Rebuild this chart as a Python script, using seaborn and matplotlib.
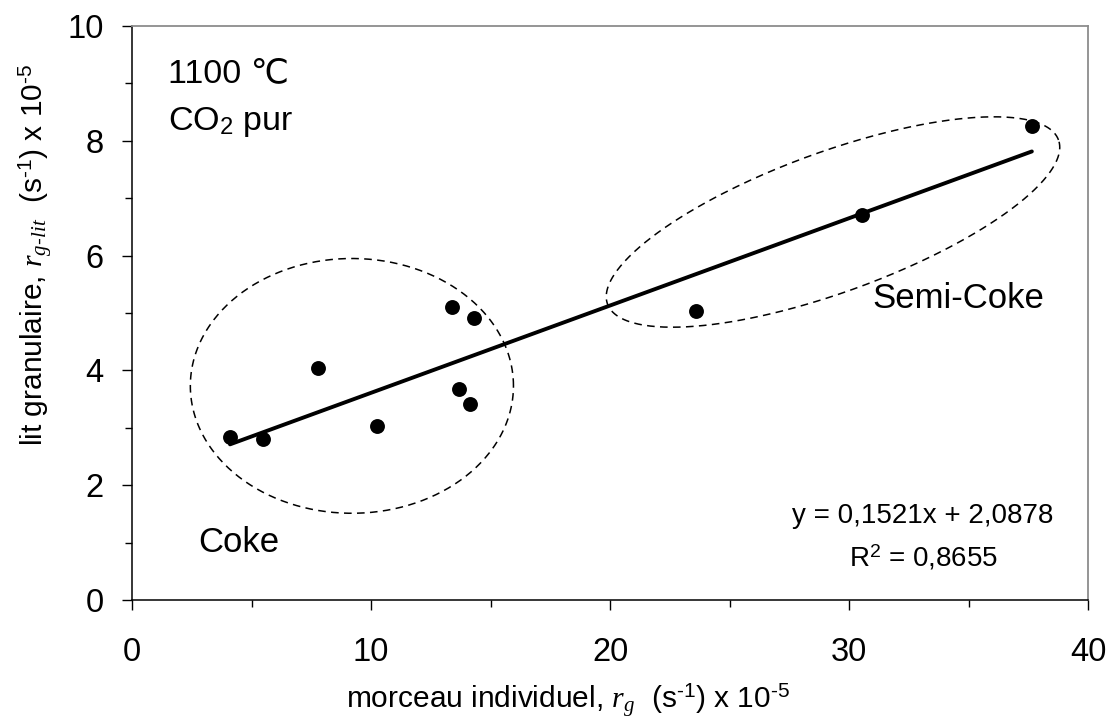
import numpy as np
import pandas as pd
import matplotlib
matplotlib.use("Agg")
import matplotlib.pyplot as plt
import seaborn as sns
from matplotlib.ticker import MultipleLocator

# Gasification rates (s^-1 x 10^-5): single lump vs. granular bed
rate_lump = [4.1, 5.5, 7.8, 10.25, 13.4, 13.7, 14.15, 14.3, 23.6, 30.55, 37.65]
rate_bed = [2.84, 2.81, 4.05, 3.03, 5.10, 3.68, 3.42, 4.91, 5.03, 6.71, 8.26]

# Linear trend as reported on the chart
slope = 0.1521
intercept = 2.0878
r_squared = 0.8655

x_ticks = [0, 10, 20, 30, 40]
y_ticks = [0, 2, 4, 6, 8, 10]

sns.set_theme(style="white")
plt.rcParams["font.family"] = ["Liberation Sans", "DejaVu Sans"]
plt.rcParams["mathtext.fontset"] = "custom"
plt.rcParams["mathtext.rm"] = "Liberation Sans"
plt.rcParams["mathtext.it"] = "Liberation Serif:italic"
plt.rcParams["mathtext.bf"] = "Liberation Sans:bold"
plt.rcParams["text.color"] = "black"
plt.rcParams["axes.labelcolor"] = "black"
plt.rcParams["xtick.color"] = "black"
plt.rcParams["ytick.color"] = "black"

fig = plt.figure(figsize=(11.15, 7.22), dpi=100)
fig.patch.set_facecolor("white")
ax = fig.add_axes([0.1184, 0.169, 0.8574, 0.795])
ax.set_facecolor("white")

df = pd.DataFrame({"lump": rate_lump, "bed": rate_bed})

# trend line over the data range
xs = np.array([df["lump"].min(), df["lump"].max()])
sns.lineplot(x=xs, y=slope * xs + intercept, ax=ax, color="black", lw=2.8, zorder=2)

sns.scatterplot(data=df, x="lump", y="bed", ax=ax, s=115, color="black",
                edgecolor="black", linewidth=0, zorder=3)

ax.set_xlim(0, 40)
ax.set_ylim(0, 10)

# aspect between one y unit and one x unit on screen
pos = ax.get_position()
px_x = pos.width * fig.get_figwidth() / 40.0
px_y = pos.height * fig.get_figheight() / 10.0
k = px_y / px_x


def group_outline(cx, cy, a, b, angle_deg):
    """Ellipse given in screen-proportional units (x-data units), returned in data coords."""
    t = np.linspace(0, 2 * np.pi, 400)
    th = np.deg2rad(angle_deg)
    u = a * np.cos(t)
    v = b * np.sin(t)
    ex = cx + u * np.cos(th) - v * np.sin(th)
    ey = cy + (u * np.sin(th) + v * np.cos(th)) / k
    return ex, ey


dash = (0, (5, 3.5))
ex, ey = group_outline(9.2, 3.73, 6.76, 5.33, 0)
ax.plot(ex, ey, color="black", lw=1.1, ls=dash, zorder=1)
ex, ey = group_outline(29.33, 6.585, 10.04, 2.93, 20)
ax.plot(ex, ey, color="black", lw=1.1, ls=dash, zorder=1)

# annotations
ax.text(1.5, 9.02, "1100 \u2103", fontsize=24.5, ha="left", va="baseline")
ax.text(1.5, 8.19, "CO$_\\mathrm{2}$ pur", fontsize=24.5, ha="left", va="baseline")
ax.text(2.76, 0.836, "Coke", fontsize=25, ha="left", va="baseline")
ax.text(30.96, 5.09, "Semi-Coke", fontsize=25, ha="left", va="baseline")

fmt = lambda v: f"{v:.4f}".replace(".", ",")
ax.text(33.1, 1.34, f"y = {fmt(slope)}x + {fmt(intercept)}", fontsize=20,
        ha="center", va="baseline")
ax.text(33.1, 0.575, f"R$^\\mathrm{{2}}$ = {fmt(r_squared)}", fontsize=20,
        ha="center", va="baseline")

# axes styling
ax.set_xticks(x_ticks)
ax.set_yticks(y_ticks)
ax.set_xticklabels([str(v) for v in x_ticks])
ax.set_yticklabels([str(v) for v in y_ticks])
ax.xaxis.set_minor_locator(MultipleLocator(5))
ax.yaxis.set_minor_locator(MultipleLocator(1))
ax.tick_params(axis="both", which="major", direction="out", length=7.5, width=1.0,
               color="black", labelsize=23.5, labelcolor="black")
ax.tick_params(axis="both", which="minor", direction="out", length=5, width=1.0,
               color="black")
ax.tick_params(axis="x", which="major", pad=19)
ax.tick_params(axis="y", which="major", pad=13)
ax.tick_params(bottom=True, left=True, which="both")

for side in ["left", "bottom"]:
    ax.spines[side].set_color("black")
    ax.spines[side].set_linewidth(1.1)
for side in ["top", "right"]:
    ax.spines[side].set_color("#8c8c8c")
    ax.spines[side].set_linewidth(1.3)

ax.set_xlabel("morceau individuel, $\\mathit{r}_{\\mathit{g}}$  (s$^{\\text{-1}}$) x 10$^{\\text{-5}}$",
              fontsize=21.5)
ax.set_ylabel("lit granulaire, $\\mathit{r}_{\\mathit{g}\\text{-}\\mathit{lit}}$  (s$^{\\text{-1}}$) x 10$^{\\text{-5}}$",
              fontsize=21.5)
ax.xaxis.label.set_va("center")
ax.xaxis.set_label_coords(0.456, -0.176)
ax.yaxis.label.set_va("center")
ax.yaxis.set_label_coords(-0.1, 0.601)

fig.savefig("out.png", dpi=100, facecolor="white")
